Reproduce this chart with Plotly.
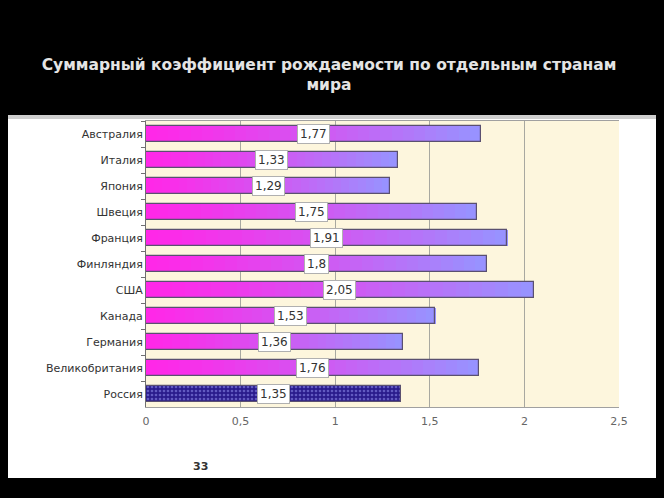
import plotly.graph_objects as go

countries = ["Австралия", "Италия", "Япония", "Швеция", "Франция", "Финляндия",
             "США", "Канада", "Германия", "Великобритания", "Россия"]
values = [1.77, 1.33, 1.29, 1.75, 1.91, 1.8, 2.05, 1.53, 1.36, 1.76, 1.35]
labels = ["1,77", "1,33", "1,29", "1,75", "1,91", "1,8", "2,05", "1,53", "1,36", "1,76", "1,35"]
highlight = "Россия"
x_ticks = [0, 0.5, 1, 1.5, 2, 2.5]

N = 30
c0 = (255, 40, 232)   # magenta (left)
c1 = (152, 146, 255)  # lavender (right)

fig = go.Figure()

normal_idx = [i for i, c in enumerate(countries) if c != highlight]
hi_idx = [i for i, c in enumerate(countries) if c == highlight]

for k in range(N):
    t = (k / (N - 1)) ** 1.2
    col = "rgb(%d,%d,%d)" % tuple(round(c0[j] + (c1[j] - c0[j]) * t) for j in range(3))
    fig.add_trace(go.Bar(
        y=[countries[i] for i in normal_idx],
        x=[values[i] / N * 1.02 for i in normal_idx],
        base=[values[i] * k / N for i in normal_idx],
        orientation="h", width=0.64,
        marker=dict(color=col, line=dict(width=0)),
        hoverinfo="skip", showlegend=False,
    ))

# Russia: patterned bar
fig.add_trace(go.Bar(
    y=[countries[i] for i in hi_idx],
    x=[values[i] for i in hi_idx],
    orientation="h", width=0.64,
    marker=dict(color="#2a1c8c",
                pattern=dict(shape=".", fgcolor="#9a9af5", bgcolor="#2a1c8c",
                             size=4, solidity=0.35),
                line=dict(width=1, color="#3a3060")),
    showlegend=False,
))

# outlines
fig.add_trace(go.Bar(
    y=countries, x=values, orientation="h", width=0.64,
    marker=dict(color="rgba(0,0,0,0)", line=dict(width=1.2, color="#5a5070")),
    showlegend=False, hoverinfo="skip",
))

for c, v, lab in zip(countries, values, labels):
    fig.add_annotation(x=v / 2, y=c, text=lab, showarrow=False,
                       font=dict(family="DejaVu Sans", size=12, color="#333333"),
                       bgcolor="white", bordercolor="#b0b0b0", borderwidth=1,
                       borderpad=2)

H = 286.0
def py(p):
    return (407 - p) / H

# top black band and thin grey line
fig.add_shape(type="rect", xref="paper", yref="paper", x0=-0.4, x1=1.2,
              y0=py(115), y1=py(0), fillcolor="black", line_width=0, layer="above")
fig.add_shape(type="rect", xref="paper", yref="paper", x0=-0.4, x1=1.2,
              y0=py(119), y1=py(115), fillcolor="#cfcfcf",
              line_width=0, layer="above")
# bottom black band
fig.add_shape(type="rect", xref="paper", yref="paper", x0=-0.4, x1=1.2,
              y0=py(506), y1=py(478), fillcolor="black", line_width=0, layer="above")

fig.add_annotation(xref="paper", yref="paper", x=(200 - 146) / 473, y=py(466),
                   xanchor="center", yanchor="middle",
                   text="<b>33</b>", showarrow=False,
                   font=dict(family="DejaVu Sans", size=11, color="#333333"))

fig.update_layout(
    width=672, height=506,
    margin=dict(l=146, r=53, t=121, b=99),
    barmode="overlay",
    separators=", ",
    paper_bgcolor="white",
    plot_bgcolor="#fdf6dd",
    bargap=0,
    title=dict(text="<b>Суммарный коэффициент рождаемости по отдельным странам<br>мира</b>",
               xref="container", x=329 / 672, xanchor="center",
               y=1 - 70 / 506, yanchor="middle",
               font=dict(family="DejaVu Sans", size=15.5, color="#e4e4e4")),
    xaxis=dict(range=[0, 2.5], tickvals=x_ticks, showgrid=True, gridcolor="#a8a8a0",
               gridwidth=1, zeroline=False, showline=True, linecolor="#a0a0a0",
               mirror=True, ticks="", tickfont=dict(family="DejaVu Sans", size=11, color="#666666"),
               ticklabelstandoff=4),
    yaxis=dict(autorange="reversed", type="category", showline=True, linecolor="#707070",
               ticks="outside", tickson="boundaries", ticklen=4, tickcolor="#707070",
               showgrid=False, tickfont=dict(family="DejaVu Sans", size=11, color="#333333")),
)

fig.write_html("out.html", config={"displayModeBar": False},
               default_width="672px", default_height="506px",
               post_script=("var gd=document.getElementById('{plot_id}');"
                            "gd.style.position='relative';gd.style.top='-8px';gd.style.left='-8px';"
                            "gd.style.width='672px';gd.style.height='506px';"
                            "document.documentElement.style.background='black';"
                            "document.body.style.background='black';"))
